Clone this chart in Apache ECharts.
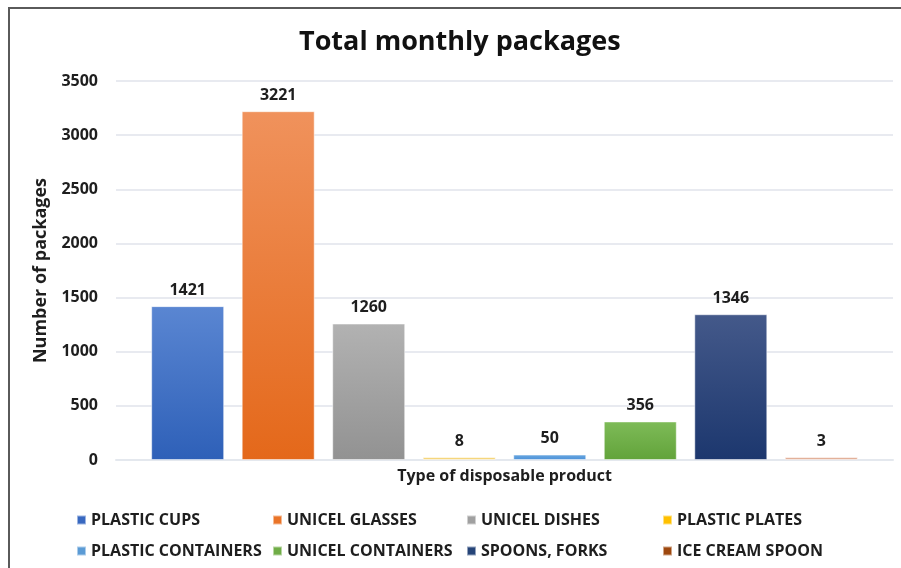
<!DOCTYPE html>
<html><head><meta charset="utf-8">
<script src="https://cdn.jsdelivr.net/npm/echarts@6/dist/echarts.min.js"></script>
<style>html,body{margin:0;padding:0;background:#fff}#c{width:901px;height:568px}</style>
</head><body><div id="c"></div>
<script>
const products = ['PLASTIC CUPS','UNICEL GLASSES','UNICEL DISHES','PLASTIC PLATES','PLASTIC CONTAINERS','UNICEL CONTAINERS','SPOONS, FORKS','ICE CREAM SPOON'];
const packages = [1421, 3221, 1260, 8, 50, 356, 1346, 3];
const yTicks = [0, 500, 1000, 1500, 2000, 2500, 3000, 3500];

const topColors = ['#5a86d2','#f0925c','#b2b2b2','#f8dc88','#6aa8e0','#7ebb58','#44598a','#e6b6a0'];
const botColors = ['#2e60b8','#e4681a','#929292','#f4d070','#4a90d8','#62a33a','#1c376e','#e0ac94'];
const legendColors = ['#3868c0','#ea7428','#a0a0a0','#ffc000','#5b9bd5','#70ad47','#264478','#9e480e'];

const FONT = '"Open Sans", sans-serif';
const chart = echarts.init(document.getElementById('c'));
const series = products.map((p, i) => ({
  name: p,
  type: 'bar',
  data: [packages[i]],
  barWidth: 73,
  barGap: '24%',
  barMinHeight: 3,
  itemStyle: {
    color: new echarts.graphic.LinearGradient(0, 0, 0, 1, [
      {offset: 0, color: topColors[i]}, {offset: 1, color: botColors[i]}
    ]),
    borderColor: 'rgba(255,255,255,0.5)',
    borderWidth: 1
  },
  label: {show: true, position: 'top', distance: 8, color: '#1e1e1e',
    fontFamily: FONT, fontWeight: 'bold', fontSize: 16}
}));
const colX = [76, 272, 466, 662];
const legends = products.map((p, i) => ({
  data: [{name: p, itemStyle: {color: legendColors[i]}}],
  left: colX[i % 4], top: i < 4 ? 512 : 543,
  itemWidth: 9, itemHeight: 9, icon: 'rect', padding: 0,
  textStyle: {fontFamily: FONT, fontWeight: 'bold', fontSize: 16, color: '#1e1e1e'}
}));
chart.setOption({
  animation: false,
  backgroundColor: '#fff',
  title: {text: 'Total monthly packages', left: 294, top: 24,
    textStyle: {fontFamily: FONT, fontWeight: 'bold', fontSize: 27, color: '#111'}},
  grid: {left: 116, right: 8, top: 81, bottom: 108},
  legend: legends,
  xAxis: {type: 'category', data: [''],
    name: 'Type of disposable product', nameLocation: 'middle', nameGap: 8,
    nameTextStyle: {fontFamily: FONT, fontWeight: 'bold', fontSize: 16, color: '#1e1e1e'},
    axisLine: {lineStyle: {color: '#e4e8ee', width: 2}}, axisTick: {show: false}, axisLabel: {show: false}},
  yAxis: {type: 'value', min: yTicks[0], max: yTicks[yTicks.length-1], interval: yTicks[1]-yTicks[0],
    name: 'Number of packages', nameLocation: 'middle', nameGap: 66,
    nameTextStyle: {fontFamily: FONT, fontWeight: 'bold', fontSize: 18, color: '#1e1e1e'},
    axisLabel: {fontFamily: FONT, fontWeight: 'bold', fontSize: 16, color: '#1e1e1e', margin: 18,
      formatter: v => String(v)},
    splitLine: {lineStyle: {color: '#e8eaf0', width: 2}}},
  graphic: [{type: 'rect', shape: {x: 9, y: 8, width: 1000, height: 1000},
    style: {fill: 'none', stroke: '#5a5a5a', lineWidth: 2}, silent: true, z: 100}],
  series: series
});
</script></body></html>
